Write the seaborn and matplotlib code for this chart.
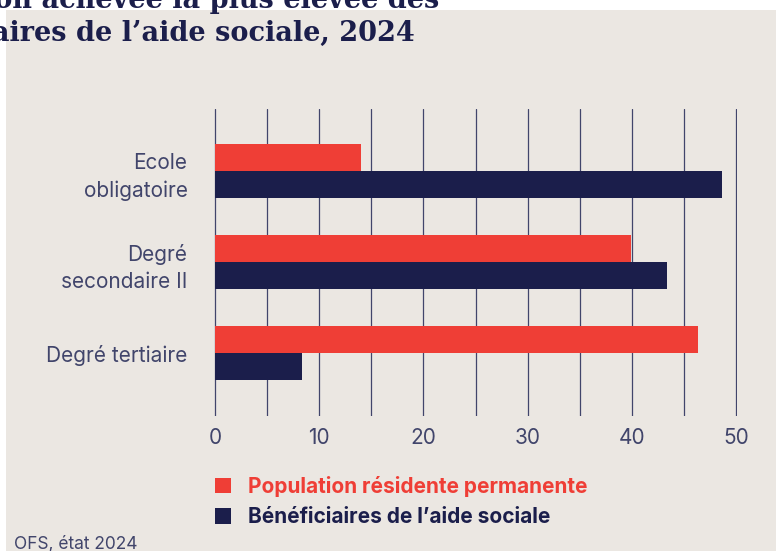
import matplotlib
matplotlib.use("Agg")
import matplotlib.pyplot as plt
import seaborn as sns
import pandas as pd
from matplotlib.patches import Rectangle

# ---- data ----
categories = ["Ecole\nobligatoire", "Degré\nsecondaire II", "Degré tertiaire"]
series_names = ["Population résidente permanente", "Bénéficiaires de l’aide sociale"]
population = [14.0, 39.9, 46.4]
beneficiaires = [48.7, 43.4, 8.3]
x_ticks = [0, 10, 20, 30, 40, 50]

RED = "#ef3e36"
NAVY = "#1b1e4b"
BG = "#ebe7e2"
GREY = "#41456b"

df = pd.DataFrame({
    "cat": categories * 2,
    "serie": [series_names[0]] * 3 + [series_names[1]] * 3,
    "val": population + beneficiaires,
})

sns.set_theme(style="white")
plt.rcParams["font.family"] = ["Inter", "DejaVu Sans"]

W, H = 776, 551
fig = plt.figure(figsize=(W / 100, H / 100), dpi=100, facecolor="white")
fig.patches.append(Rectangle((6 / W, 0), 1 - 6 / W, (H - 10) / H,
                             transform=fig.transFigure, facecolor=BG,
                             edgecolor="none", zorder=-10))

x0, x1 = 214, 737
y_top, y_bot = 109, 416
ax = fig.add_axes([x0 / W, 1 - y_bot / H, (x1 - x0) / W, (y_bot - y_top) / H])
ax.set_facecolor("none")

sns.barplot(data=df, y="cat", x="val", hue="serie", orient="h",
            palette=[RED, NAVY], width=0.6, ax=ax, saturation=1,
            edgecolor="none", linewidth=0, zorder=3)

ax.set_xlim(-0.1, 50.1)
ax.set_ylim(2.69, -0.68)
ax.set_xticks(x_ticks)
ax.grid(False)
for v in range(0, 55, 5):
    ax.axvline(v, color=GREY, lw=0.9, zorder=1)
for s in ax.spines.values():
    s.set_visible(False)
ax.set_xlabel("")
ax.set_ylabel("")
ax.tick_params(axis="both", which="both", length=0, colors=GREY, labelsize=15)
ax.tick_params(axis="x", pad=9)
ax.tick_params(axis="y", pad=19)
for lab in ax.get_yticklabels():
    lab.set_linespacing(1.45)
    lab.set_horizontalalignment("right")

handles, labels = ax.get_legend_handles_labels()
leg = ax.legend(handles, labels, loc="upper left",
                bbox_to_anchor=(215 / W, 1 - 476 / H), bbox_transform=fig.transFigure,
                frameon=False, fontsize=15, handlelength=0.76, handleheight=0.76,
                handletextpad=0.8, labelspacing=0.5, borderpad=0, borderaxespad=0)
for t, c in zip(leg.get_texts(), [RED, NAVY]):
    t.set_color(c)
    t.set_fontweight("bold")

# title (partly outside the visible area, as in the reference)
serif = ["DejaVu Serif", "Liberation Serif"]
fig.text(439 / W, 1 - 8 / H, "Formation achevée la plus élevée des",
         ha="right", va="baseline", fontsize=19.5, fontweight="bold",
         family=serif, color=NAVY)
fig.text(415 / W, 1 - 41 / H, "bénéficiaires de l’aide sociale, 2024",
         ha="right", va="baseline", fontsize=19.5, fontweight="bold",
         family=serif, color=NAVY)

fig.text(14 / W, 2 / H, "OFS, état 2024", ha="left", va="baseline",
         fontsize=12.5, color=GREY)

fig.savefig("out.png", dpi=100, facecolor="white")
